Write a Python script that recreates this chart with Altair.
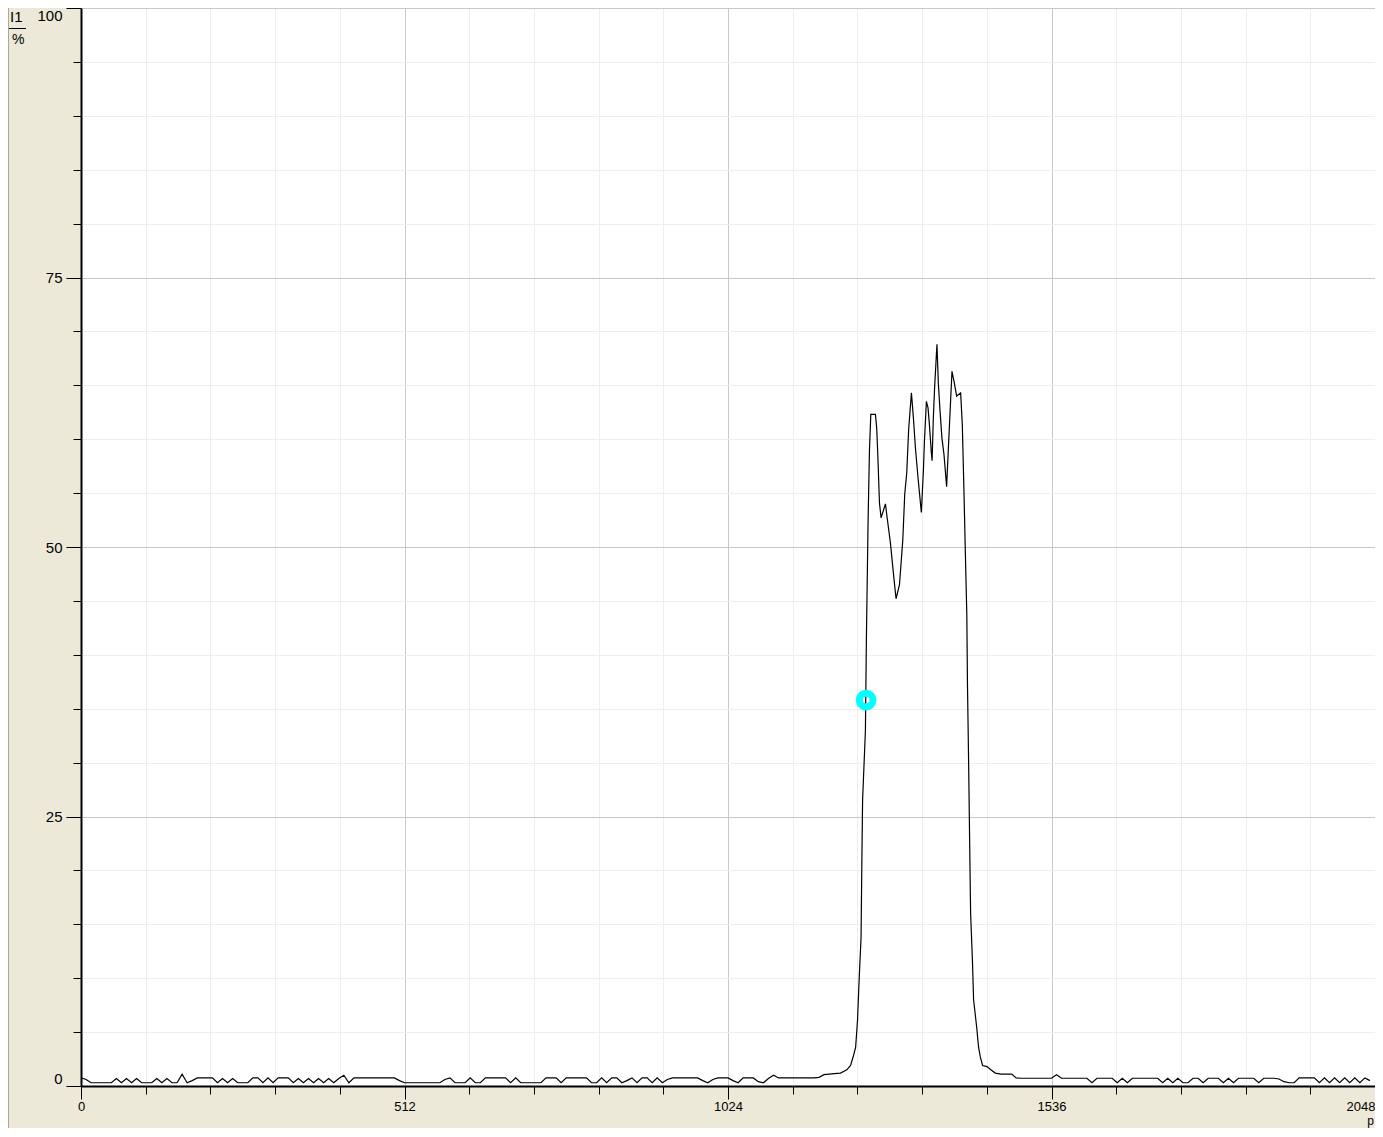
import altair as alt
import pandas as pd

# ---- data ----
STEP = 8  # sampling step of the baseline (units of p)

# baseline before the peak, p = 0, 8, 16, ... 1184
BASE_LEFT = [
    0.77, 0.6, 0.3, 0.3, 0.3, 0.3, 0.3, 0.7, 0.3, 0.7,
    0.3, 0.7, 0.3, 0.3, 0.3, 0.7, 0.3, 0.7, 0.3, 0.3,
    1.1, 0.3, 0.5, 0.75, 0.75, 0.75, 0.75, 0.3, 0.7, 0.3,
    0.7, 0.3, 0.3, 0.3, 0.75, 0.75, 0.3, 0.75, 0.3, 0.75,
    0.75, 0.75, 0.3, 0.7, 0.3, 0.7, 0.3, 0.7, 0.3, 0.7,
    0.3, 0.7, 1.0, 0.3, 0.75, 0.75, 0.75, 0.75, 0.75, 0.75,
    0.75, 0.75, 0.75, 0.5, 0.3, 0.3, 0.3, 0.3, 0.3, 0.3,
    0.3, 0.3, 0.6, 0.75, 0.3, 0.3, 0.3, 0.75, 0.3, 0.3,
    0.75, 0.75, 0.75, 0.75, 0.75, 0.3, 0.75, 0.3, 0.3, 0.3,
    0.3, 0.3, 0.75, 0.75, 0.75, 0.3, 0.75, 0.75, 0.75, 0.75,
    0.75, 0.3, 0.3, 0.75, 0.3, 0.75, 0.75, 0.3, 0.5, 0.75,
    0.3, 0.75, 0.75, 0.3, 0.75, 0.3, 0.6, 0.75, 0.75, 0.75,
    0.75, 0.75, 0.75, 0.5, 0.3, 0.6, 0.75, 0.75, 0.75, 0.5,
    0.3, 0.75, 0.75, 0.75, 0.4, 0.3, 0.7, 1.0, 0.75, 0.75,
    0.75, 0.75, 0.75, 0.75, 0.75, 0.75, 0.8, 1.05, 1.1,
]

# the peak region
PEAK_X = [
    1192, 1202, 1212, 1218, 1223, 1226, 1229, 1231.5, 1234.6, 1235.7,
    1237, 1241.5, 1243, 1244.1, 1245.7, 1247.9, 1250, 1257.3, 1259.4, 1261,
    1263.7, 1266.3, 1273.2, 1274.8, 1281, 1286.4, 1290, 1295.4, 1300.6, 1303.7,
    1306.9, 1310, 1314.3, 1317.4, 1320.6, 1324.8, 1330, 1333.2, 1334.8, 1338,
    1340.6, 1342.7, 1345.9, 1347, 1349, 1351, 1354.7, 1356.9, 1359.5, 1362.6,
    1365.8, 1370, 1373.2, 1375.3, 1378.5, 1381.6, 1385.9, 1392.2, 1394.8, 1397.4,
    1399.6, 1402, 1403, 1404.8, 1406.4, 1408, 1411, 1412.7, 1417.5, 1420.6,
    1423.3, 1427, 1434, 1440, 1447, 1456, 1464, 1473, 1480,
]
PEAK_Y = [
    1.15, 1.2, 1.5, 1.9, 2.9, 3.6, 6.1, 9.8, 13.8, 20.0,
    26.5, 33.0, 41.3, 45.8, 52.4, 59.0, 62.3, 62.3, 61.0, 58.7,
    54.1, 52.7, 54.0, 53.2, 50.4, 47.2, 45.2, 46.5, 50.6, 54.9,
    56.9, 61.0, 64.3, 62.0, 59.2, 56.4, 53.2, 57.0, 59.7, 63.5,
    62.9, 61.4, 58.7, 58.0, 62.0, 64.8, 68.8, 65.2, 62.7, 60.1,
    58.6, 55.6, 59.7, 62.3, 66.3, 65.4, 64.0, 64.3, 61.4, 55.3,
    49.6, 43.6, 37.3, 30.2, 22.9, 16.0, 11.4, 8.0, 5.5, 3.6,
    2.7, 1.9, 1.8, 1.5, 1.2, 1.1, 1.1, 1.1, 0.75,
]

# baseline after the peak, p = 1488, 1496, ... 2040
RIGHT_START = 1488
BASE_RIGHT = [
    0.72, 0.72, 0.72, 0.72, 0.72, 0.72, 0.72, 1.05, 0.72, 0.72,
    0.72, 0.72, 0.72, 0.72, 0.3, 0.72, 0.72, 0.72, 0.72, 0.3,
    0.72, 0.3, 0.72, 0.72, 0.72, 0.72, 0.72, 0.72, 0.3, 0.72,
    0.3, 0.72, 0.3, 0.3, 0.72, 0.72, 0.3, 0.72, 0.72, 0.72,
    0.3, 0.72, 0.3, 0.72, 0.72, 0.72, 0.72, 0.3, 0.72, 0.72,
    0.72, 0.65, 0.4, 0.3, 0.3, 0.75, 0.75, 0.75, 0.75, 0.3,
    0.75, 0.3, 0.75, 0.3, 0.75, 0.3, 0.75, 0.3, 0.75, 0.5,
]

MARKER_X = [1242.6]
MARKER_Y = [35.8]

X_MAJOR = [0, 512, 1024, 1536, 2048]
X_MINOR = [102.4, 204.8, 307.2, 409.6, 614.4, 716.8, 819.2, 921.6,
           1126.4, 1228.8, 1331.2, 1433.6, 1638.4, 1740.8, 1843.2, 1945.6]
Y_MAJOR = [0, 25, 50, 75, 100]
Y_MINOR = [5, 10, 15, 20, 30, 35, 40, 45, 55, 60, 65, 70, 80, 85, 90, 95]

Y_TITLE_TOP = ["I1"]
Y_TITLE_BOTTOM = ["%"]
X_TITLE = ["p"]

# ---- build table ----
xs = ([i * STEP for i in range(len(BASE_LEFT))] + PEAK_X +
      [RIGHT_START + i * STEP for i in range(len(BASE_RIGHT))])
ys = BASE_LEFT + PEAK_Y + BASE_RIGHT
df = pd.DataFrame({"p": xs, "v": ys})
marker = pd.DataFrame({"p": MARKER_X, "v": MARKER_Y})

W, H = 1294, 1078
PAD = {"left": 73, "top": 0, "right": 0, "bottom": 42}
TOTAL_H = H + PAD["top"] + PAD["bottom"]

xscale = alt.Scale(domain=[0, 2048], nice=False, zero=False)
yscale = alt.Scale(domain=[0, 100], nice=False, zero=False)
FONT = "Liberation Sans"

minor = alt.Chart(df).mark_line(opacity=0).encode(
    x=alt.X("p:Q", scale=xscale, title=None,
            axis=alt.Axis(values=X_MINOR, orient="bottom", labels=False, domain=False,
                          ticks=True, tickSize=8, tickColor="#000000", tickWidth=1,
                          grid=True, gridColor="#EEEEEE", gridWidth=1)),
    y=alt.Y("v:Q", scale=yscale, title=None,
            axis=alt.Axis(values=Y_MINOR, orient="left", labels=False, domain=False,
                          ticks=True, tickSize=8, tickColor="#000000", tickWidth=1,
                          grid=True, gridColor="#EEEEEE", gridWidth=1)),
)

major = alt.Chart(df).mark_line(opacity=0).encode(
    x=alt.X("p:Q", scale=xscale, title=None,
            axis=alt.Axis(values=X_MAJOR, orient="bottom", format="d",
                          labelAlign={"expr": "datum.value == 2048 ? 'right' : 'center'"},
                          labelPadding=1, labelFont=FONT, labelFontSize=13, labelColor="#000000",
                          domain=True, domainColor="#000000", domainWidth=2,
                          ticks=True, tickSize=13, tickColor="#000000", tickWidth=1,
                          grid=True, gridColor="#C8C8C8", gridWidth=1)),
    y=alt.Y("v:Q", scale=yscale, title=None,
            axis=alt.Axis(values=Y_MAJOR, orient="left", format="d",
                          labelBaseline={"expr": "datum.value == 100 ? 'top' : (datum.value == 0 ? 'bottom' : 'middle')"},
                          labelPadding=4, labelFont=FONT, labelFontSize=15, labelColor="#000000",
                          domain=True, domainColor="#000000", domainWidth=2,
                          ticks=True, tickSize=15, tickColor="#000000", tickWidth=1,
                          grid=True, gridColor="#C8C8C8", gridWidth=1)),
)

line = alt.Chart(df).mark_line(color="#000000", strokeWidth=1.2, interpolate="linear").encode(
    x=alt.X("p:Q", scale=xscale, axis=None),
    y=alt.Y("v:Q", scale=yscale, axis=None),
)

pt = alt.Chart(marker).mark_point(shape="circle", filled=False, color="#00FFFF",
                                  strokeWidth=7, size=190, opacity=1).encode(
    x=alt.X("p:Q", scale=xscale, axis=None),
    y=alt.Y("v:Q", scale=yscale, axis=None),
)

border = alt.Chart(pd.DataFrame({"t": Y_TITLE_TOP})).mark_rule(color="#ACA899", strokeWidth=1).encode(
    x=alt.value(-72.5), y=alt.value(0), y2=alt.value(TOTAL_H)
)

t_top = alt.Chart(pd.DataFrame({"t": Y_TITLE_TOP})).mark_text(
    font=FONT, fontSize=15, color="#000000", align="left", baseline="alphabetic"
).encode(x=alt.value(-71), y=alt.value(14), text="t:N")

frac = alt.Chart(pd.DataFrame({"t": Y_TITLE_TOP})).mark_rule(color="#000000", strokeWidth=1).encode(
    x=alt.value(-72), x2=alt.value(-55), y=alt.value(20.5)
)

t_bot = alt.Chart(pd.DataFrame({"t": Y_TITLE_BOTTOM})).mark_text(
    font=FONT, fontSize=14, color="#000000", align="left", baseline="alphabetic"
).encode(x=alt.value(-69), y=alt.value(36), text="t:N")

t_x = alt.Chart(pd.DataFrame({"t": X_TITLE})).mark_text(
    font=FONT, fontSize=12, color="#000000", align="right", baseline="alphabetic"
).encode(x=alt.value(W - 1), y=alt.value(1117), text="t:N")

chart = alt.layer(minor, major, line, pt, border, t_top, frac, t_bot, t_x).resolve_axis(
    x="independent", y="independent"
).properties(
    width=W, height=H,
    padding=PAD,
    autosize=alt.AutoSizeParams(type="none"),
    background="#ECE9D8",
).configure_view(fill="#FFFFFF", strokeWidth=0)

chart.save("out.html", embed_options={"renderer": "svg", "actions": False})
